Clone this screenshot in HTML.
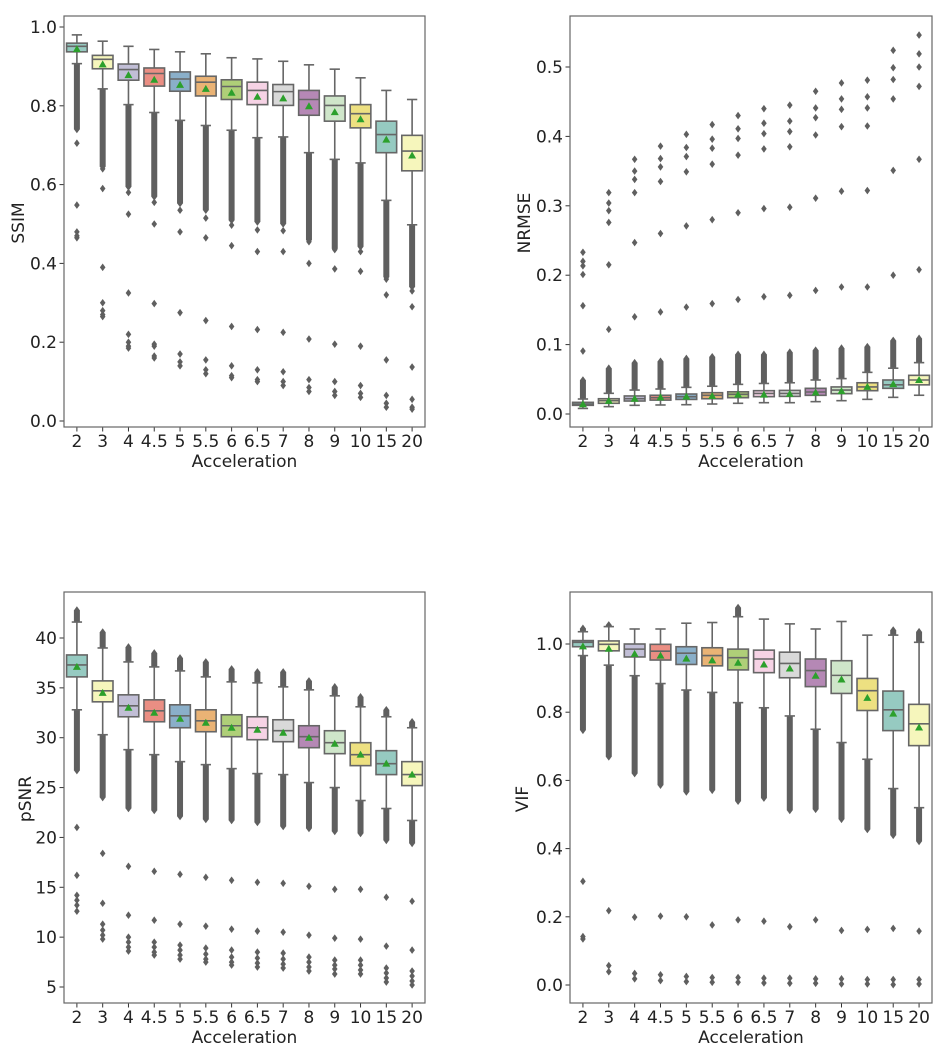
<!DOCTYPE html>
<html><head><meta charset="utf-8"><style>
html,body{margin:0;padding:0;background:#fff;}
svg{display:block;font-family:"DejaVu Sans","Liberation Sans",sans-serif;}
</style></head><body>
<svg id="fig" width="947" height="1052" viewBox="0 0 947 1052" xmlns="http://www.w3.org/2000/svg"></svg>
<script>
const categories = ["2","3","4","4.5","5","5.5","6","6.5","7","8","9","10","15","20"];
const palette = ["#8dd3c7","#ffffb3","#bebada","#fb8072","#80b1d3","#fdb462","#b3de69","#fccde5","#d9d9d9","#bc80bd","#ccebc5","#ffed6f","#8dd3c7","#ffffb3"];

// SSIM: [whiskLo, q1, median, q3, whiskHi]
const ssimBoxes = [[0.907,0.937,0.951,0.959,0.980],[0.843,0.894,0.918,0.928,0.964],[0.803,0.865,0.892,0.906,0.951],[0.783,0.850,0.882,0.896,0.943],[0.763,0.837,0.868,0.886,0.937],[0.750,0.825,0.860,0.875,0.932],[0.738,0.816,0.849,0.866,0.922],[0.719,0.803,0.839,0.860,0.919],[0.721,0.801,0.836,0.854,0.913],[0.681,0.776,0.816,0.839,0.904],[0.664,0.761,0.801,0.825,0.893],[0.655,0.744,0.780,0.803,0.871],[0.560,0.681,0.727,0.761,0.839],[0.498,0.635,0.685,0.725,0.816]];
const ssimMeans = [0.944,0.905,0.878,0.866,0.853,0.843,0.833,0.823,0.819,0.799,0.784,0.766,0.714,0.674];
const ssimDenseLo = [0.74,0.645,0.594,0.569,0.552,0.535,0.509,0.505,0.50,0.459,0.437,0.442,0.365,0.34];
const ssimDenseHi = [null,null,null,null,null,null,null,null,null,null,null,null,null,null];
const ssimOutliers = [[0.705,0.548,0.48,0.47,0.465],[0.64,0.59,0.39,0.30,0.28,0.27,0.265],[0.58,0.525,0.325,0.22,0.2,0.19,0.185],[0.555,0.5,0.298,0.195,0.19,0.165,0.16],[0.535,0.48,0.275,0.17,0.15,0.14],[0.515,0.465,0.255,0.155,0.13,0.12],[0.497,0.445,0.24,0.14,0.115,0.11],[0.485,0.43,0.232,0.13,0.105,0.10],[0.483,0.43,0.225,0.125,0.1,0.09],[0.455,0.40,0.208,0.105,0.085,0.075],[0.435,0.386,0.195,0.1,0.075,0.065],[0.43,0.38,0.19,0.09,0.07,0.06],[0.36,0.32,0.155,0.065,0.045,0.035],[0.33,0.29,0.137,0.055,0.035,0.03]];

// NRMSE
const nrmseBoxes = [[0.008,0.0125,0.0144,0.0168,0.0216],[0.0106,0.0154,0.0192,0.022,0.0298],[0.0125,0.0187,0.022,0.026,0.0345],[0.013,0.020,0.0235,0.027,0.036],[0.0134,0.021,0.025,0.0288,0.0384],[0.0144,0.022,0.0269,0.0307,0.040],[0.0154,0.0235,0.0283,0.032,0.0427],[0.0163,0.025,0.0297,0.0336,0.044],[0.0163,0.0254,0.0297,0.034,0.045],[0.0178,0.0269,0.0317,0.037,0.049],[0.0192,0.0293,0.0345,0.039,0.051],[0.0211,0.0336,0.039,0.045,0.060],[0.024,0.037,0.042,0.049,0.066],[0.027,0.042,0.049,0.0557,0.074]];
const nrmseMeans = [0.014,0.019,0.022,0.024,0.025,0.026,0.028,0.028,0.029,0.031,0.033,0.039,0.043,0.049];
const nrmseDenseLo = [null,null,null,null,null,null,null,null,null,null,null,null,null,null];
const nrmseDenseHi = [0.049,0.066,0.074,0.076,0.080,0.0825,0.086,0.086,0.089,0.092,0.095,0.097,0.106,0.109];
const nrmseOutliers = [[0.0907,0.156,0.201,0.2135,0.22,0.233],[0.122,0.215,0.276,0.293,0.304,0.319],[0.14,0.247,0.319,0.338,0.35,0.367],[0.147,0.26,0.335,0.356,0.368,0.386],[0.154,0.271,0.349,0.371,0.384,0.403],[0.159,0.28,0.36,0.383,0.396,0.417],[0.165,0.29,0.373,0.397,0.411,0.43],[0.169,0.296,0.382,0.404,0.419,0.44],[0.171,0.298,0.385,0.407,0.422,0.445],[0.178,0.311,0.402,0.427,0.441,0.465],[0.183,0.321,0.414,0.439,0.454,0.477],[0.183,0.322,0.415,0.441,0.457,0.481],[0.2,0.351,0.454,0.482,0.499,0.524],[0.208,0.367,0.472,0.5,0.519,0.546]];

// pSNR
const psnrBoxes = [[32.8,36.1,37.3,38.3,41.6],[30.3,33.6,34.7,35.7,39.0],[28.8,32.1,33.2,34.3,37.6],[28.3,31.6,32.7,33.8,37.1],[27.6,31.0,32.2,33.3,36.7],[27.3,30.6,31.7,32.8,36.1],[26.9,30.1,31.2,32.3,35.6],[26.4,29.8,31.0,32.1,35.5],[26.3,29.6,30.7,31.8,35.1],[25.5,29.0,30.1,31.2,34.8],[25.0,28.4,29.5,30.7,34.2],[23.7,27.2,28.3,29.5,33.1],[22.9,26.3,27.4,28.7,32.1],[21.7,25.2,26.3,27.6,31.0]];
const psnrMeans = [37.1,34.5,33.0,32.5,31.9,31.5,31.0,30.8,30.5,30.0,29.4,28.3,27.4,26.3];
const psnrDenseLo = [26.7,24.0,22.9,22.7,22.1,21.8,21.7,21.5,21.1,20.9,20.6,20.4,19.7,19.4];
const psnrDenseHi = [42.8,40.6,39.1,38.5,38.0,37.6,36.9,36.6,36.6,35.7,35.1,34.1,32.8,31.6];
const psnrOutliers = [[21.0,16.2,14.2,13.7,13.2,12.6],[18.4,13.4,11.3,10.7,10.2,9.8],[17.1,12.2,10.0,9.5,9.0,8.6],[16.6,11.7,9.5,9.0,8.5,8.2],[16.3,11.3,9.2,8.7,8.2,7.8],[16.0,11.1,8.9,8.3,7.8,7.5],[15.7,10.8,8.7,8.0,7.5,7.2],[15.5,10.6,8.5,7.9,7.4,7.0],[15.4,10.5,8.4,7.8,7.3,6.9],[15.1,10.2,8.0,7.5,7.0,6.6],[14.8,9.9,7.7,7.2,6.8,6.3],[14.8,9.8,7.7,7.2,6.7,6.3],[14.0,9.1,6.9,6.4,5.9,5.5],[13.6,8.7,6.6,6.1,5.6,5.2]];

// VIF
const vifBoxes = [[0.966,0.992,1.005,1.01,1.036],[0.938,0.980,0.999,1.009,1.051],[0.907,0.962,0.985,1.0,1.044],[0.884,0.953,0.979,0.999,1.044],[0.865,0.94,0.973,0.992,1.061],[0.858,0.936,0.966,0.989,1.063],[0.828,0.924,0.96,0.985,1.08],[0.813,0.916,0.956,0.982,1.073],[0.789,0.901,0.943,0.976,1.059],[0.75,0.875,0.922,0.956,1.044],[0.711,0.855,0.908,0.951,1.066],[0.662,0.805,0.863,0.899,1.026],[0.576,0.746,0.807,0.862,1.026],[0.52,0.702,0.766,0.823,1.005]];
const vifMeans = [0.993,0.986,0.971,0.966,0.957,0.952,0.945,0.94,0.928,0.907,0.896,0.842,0.796,0.755];
const vifDenseLo = [0.747,0.669,0.62,0.586,0.566,0.571,0.539,0.548,0.512,0.515,0.486,0.456,0.439,0.421];
const vifDenseHi = [1.046,1.056,null,null,null,null,1.107,null,null,null,null,null,1.041,1.036];
const vifOutliers = [[0.304,0.142,0.135],[0.218,0.057,0.039],[0.199,0.034,0.018],[0.202,0.03,0.013],[0.2,0.025,0.01],[0.176,0.022,0.008],[0.191,0.022,0.008],[0.187,0.02,0.006],[0.171,0.02,0.005],[0.191,0.018,0.005],[0.16,0.018,0.003],[0.163,0.016,0.003],[0.166,0.016,0.001],[0.158,0.016,0.003]];

const ssimTicks = [0,0.2,0.4,0.6,0.8,1.0];
const ssimTickLabels = ["0.0","0.2","0.4","0.6","0.8","1.0"];
const nrmseTicks = [0,0.1,0.2,0.3,0.4,0.5];
const nrmseTickLabels = ["0.0","0.1","0.2","0.3","0.4","0.5"];
const psnrTicks = [5,10,15,20,25,30,35,40];
const psnrTickLabels = ["5","10","15","20","25","30","35","40"];
const vifTicks = [0,0.2,0.4,0.6,0.8,1.0];
const vifTickLabels = ["0.0","0.2","0.4","0.6","0.8","1.0"];

const NS = "http://www.w3.org/2000/svg";
const svg = document.getElementById("fig");
function mk(tag, attrs, parent){ const e=document.createElementNS(NS,tag); for(const k in attrs) e.setAttribute(k,attrs[k]); (parent||svg).appendChild(e); return e; }

function desat(hex, p){
  let r=parseInt(hex.substr(1,2),16)/255,g=parseInt(hex.substr(3,2),16)/255,b=parseInt(hex.substr(5,2),16)/255;
  const mx=Math.max(r,g,b),mn=Math.min(r,g,b); let h=0,s=0,l=(mx+mn)/2;
  if(mx!==mn){const d=mx-mn; s=l>0.5?d/(2-mx-mn):d/(mx+mn);
    if(mx===r)h=((g-b)/d+(g<b?6:0))/6; else if(mx===g)h=((b-r)/d+2)/6; else h=((r-g)/d+4)/6;}
  s*=p;
  function hue(p,q,t){if(t<0)t+=1;if(t>1)t-=1;if(t<1/6)return p+(q-p)*6*t;if(t<1/2)return q;if(t<2/3)return p+(q-p)*(2/3-t)*6;return p;}
  const q=l<0.5?l*(1+s):l+s-l*s, pp=2*l-q;
  const c=[hue(pp,q,h+1/3),hue(pp,q,h),hue(pp,q,h-1/3)].map(v=>Math.round(v*255));
  return "rgb("+c.join(",")+")";
}

const GRAY="#5f5f5f";
const FS="17";
const panels = [
  {key:"ssim", title:"SSIM", x0:64,x1:425,y0:16,y1:427, vmin:0,vmax:1, py0:421, py1:27, boxes:ssimBoxes, means:ssimMeans, dLo:ssimDenseLo, dHi:ssimDenseHi, outs:ssimOutliers, ticks:ssimTicks, tickLabels:ssimTickLabels, ylx:19, yly:223},
  {key:"nrmse", title:"NRMSE", x0:570,x1:932,y0:16,y1:427, vmin:0,vmax:0.5, py0:414, py1:67, boxes:nrmseBoxes, means:nrmseMeans, dLo:nrmseDenseLo, dHi:nrmseDenseHi, outs:nrmseOutliers, ticks:nrmseTicks, tickLabels:nrmseTickLabels, ylx:525, yly:223},
  {key:"psnr", title:"pSNR", x0:64,x1:425,y0:592,y1:1003, vmin:5,vmax:40, py0:987, py1:638, boxes:psnrBoxes, means:psnrMeans, dLo:psnrDenseLo, dHi:psnrDenseHi, outs:psnrOutliers, ticks:psnrTicks, tickLabels:psnrTickLabels, ylx:26, yly:799},
  {key:"vif", title:"VIF", x0:570,x1:932,y0:592,y1:1003, vmin:0,vmax:1, py0:985, py1:644, boxes:vifBoxes, means:vifMeans, dLo:vifDenseLo, dHi:vifDenseHi, outs:vifOutliers, ticks:vifTicks, tickLabels:vifTickLabels, ylx:523, yly:799}
];

function diamond(g,x,y){
  const d=mk("path",{d:`M${x},${y-3.8}L${x+2.8},${y}L${x},${y+3.8}L${x-2.8},${y}Z`,fill:GRAY},g);
  
  
}

panels.forEach(P=>{
  const g=mk("g",{});
  
  
  const yS=v=>P.py0+(v-P.vmin)*(P.py1-P.py0)/(P.vmax-P.vmin);
  const band=(P.x1-P.x0)/categories.length;
  const xS=i=>P.x0+(i+0.5)*band;
  const bw=band*0.8, cw=bw*0.5;

  P.ticks.forEach((t,i)=>{
    const y=yS(t);
    const tk=mk("line",{x1:P.x0-4.5,x2:P.x0,y1:y,y2:y,stroke:"#333","stroke-width":1},g);
    
    
    const tl=mk("text",{x:P.x0-7,y:y+6,"text-anchor":"end","font-size":FS,fill:"#222"},g);
    tl.textContent=P.tickLabels[i];
    
    
  });
  categories.forEach((c,i)=>{
    const x=xS(i);
    const tk=mk("line",{x1:x,x2:x,y1:P.y1,y2:P.y1+4.5,stroke:"#333","stroke-width":1},g);
    
    
    const tl=mk("text",{x:x,y:P.y1+20,"text-anchor":"middle","font-size":FS,fill:"#222"},g);
    tl.textContent=c;
    
    
  });
  const xl=mk("text",{x:(P.x0+P.x1)/2,y:P.y1+40,"text-anchor":"middle","font-size":FS,fill:"#222"},g);
  xl.textContent="Acceleration";
  
  
  const yl=mk("text",{x:P.ylx,y:P.yly,"text-anchor":"middle","font-size":FS,fill:"#222",transform:`rotate(-90 ${P.ylx} ${P.yly})`,"dominant-baseline":"central"},g);
  yl.textContent=P.title;
  
  

  categories.forEach((c,i)=>{
    const x=xS(i), b=P.boxes[i];
    const bg=mk("g",{},g);
    
    
    if(P.dLo[i]!==null){
      const r=mk("rect",{x:x-3,y:yS(b[0]),width:6,height:yS(P.dLo[i])-yS(b[0]),fill:GRAY},bg);
      
      
      diamond(bg,x,yS(P.dLo[i]));
    }
    if(P.dHi[i]!==null){
      const r=mk("rect",{x:x-3,y:yS(P.dHi[i]),width:6,height:yS(b[4])-yS(P.dHi[i]),fill:GRAY},bg);
      
      
      diamond(bg,x,yS(P.dHi[i]));
    }
    P.outs[i].forEach(v=>diamond(bg,x,yS(v)));
    const w1=mk("line",{x1:x,x2:x,y1:yS(b[0]),y2:yS(b[1]),stroke:"#666","stroke-width":1.6},bg);
    
    
    const w2=mk("line",{x1:x,x2:x,y1:yS(b[3]),y2:yS(b[4]),stroke:"#666","stroke-width":1.6},bg);
    
    
    [b[0],b[4]].forEach(v=>{
      const cp=mk("line",{x1:x-cw/2,x2:x+cw/2,y1:yS(v),y2:yS(v),stroke:"#666","stroke-width":1.6},bg);
      
      
    });
    const rect=mk("rect",{x:x-bw/2,y:yS(b[3]),width:bw,height:yS(b[1])-yS(b[3]),fill:desat(palette[i],0.75),stroke:"#666","stroke-width":1.6},bg);
    
    
    const md=mk("line",{x1:x-bw/2,x2:x+bw/2,y1:yS(b[2]),y2:yS(b[2]),stroke:"#666","stroke-width":1.6},bg);
    
    
    const my=yS(P.means[i]);
    const tri=mk("path",{d:`M${x},${my-4}L${x+4},${my+3}L${x-4},${my+3}Z`,fill:"#2ca02c"},bg);
    
    
  });
  const fr=mk("rect",{x:P.x0,y:P.y0,width:P.x1-P.x0,height:P.y1-P.y0,fill:"none",stroke:"#666","stroke-width":1.2},g);
  
  
});
</script>
</body></html>
